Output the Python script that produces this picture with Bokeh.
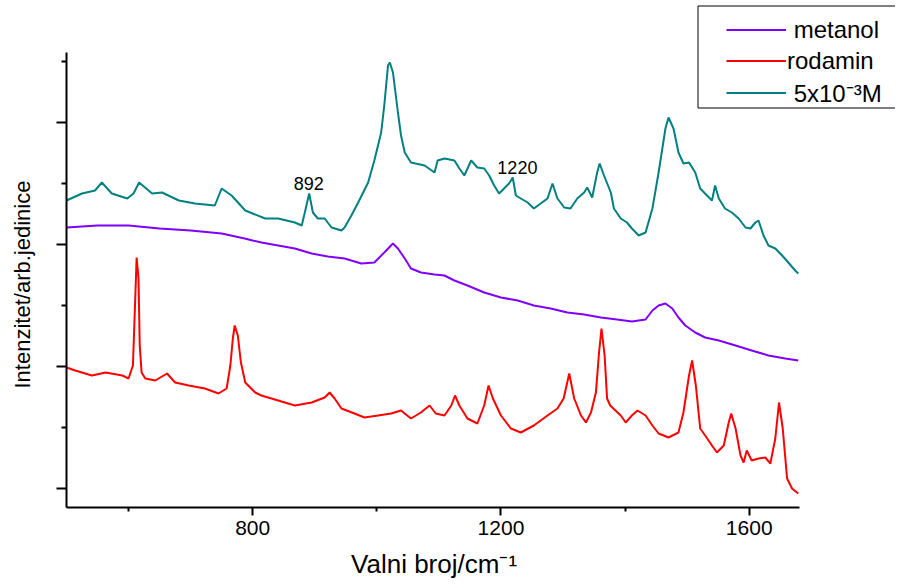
from bokeh.plotting import figure
from bokeh.models import (Range1d, FixedTicker, Legend, LegendItem, Label,
                          CustomLabelingPolicy)
from bokeh.embed import file_html
from bokeh.resources import INLINE

# Raman spectra: wavenumber (cm^-1), intensity (a.u.)
x_sample = [500, 525, 546, 557, 573, 598, 608, 617, 638, 654, 681, 707, 739, 750, 766, 788,
            820, 841, 868, 879, 884, 891, 897, 905, 916, 927, 943, 948, 959, 970, 986, 996,
            1007, 1012, 1018, 1021, 1026, 1034, 1039, 1045, 1055, 1077, 1093, 1098, 1109, 1125,
            1133, 1141, 1152, 1162, 1173, 1181, 1189, 1197, 1205, 1213, 1219, 1224, 1232, 1243,
            1253, 1264, 1275, 1283, 1291, 1302, 1312, 1323, 1334, 1339, 1347, 1355, 1359, 1366,
            1377, 1382, 1393, 1403, 1411, 1422, 1433, 1444, 1454, 1465, 1470, 1478, 1486, 1494,
            1503, 1513, 1521, 1532, 1540, 1545, 1551, 1561, 1572, 1583, 1594, 1602, 1610, 1615,
            1623, 1631, 1642, 1653, 1663, 1674, 1679]
y_sample = [300, 307, 310, 318, 307, 302, 307, 318, 307, 308, 300, 297, 295, 312, 305, 290,
            282, 282, 278, 275, 288, 307, 288, 282, 282, 273, 270, 273, 285, 298, 318, 340,
            368, 395, 435, 438, 428, 388, 365, 348, 338, 335, 328, 340, 342, 340,
            332, 325, 340, 333, 332, 325, 315, 307, 312, 317, 323, 305, 302, 298,
            292, 297, 302, 317, 302, 293, 292, 302, 308, 313, 303, 328, 337, 325,
            308, 292, 282, 278, 272, 265, 268, 292, 328, 372, 383, 372, 348, 337,
            338, 328, 312, 305, 300, 315, 302, 292, 288, 282, 273, 272, 278, 280,
            265, 255, 252, 245, 238, 230, 227]

x_metanol = [500, 550, 600, 650, 700, 750, 787, 800, 814, 841, 868, 895, 921, 948, 975, 996,
             1012, 1026, 1034, 1045, 1055, 1071, 1093, 1109, 1125, 1146, 1173, 1200, 1227, 1253,
             1280, 1307, 1334, 1361, 1387, 1411, 1433, 1444, 1454, 1465, 1476, 1486, 1497, 1513,
             1529, 1551, 1578, 1604, 1631, 1658, 1679]
y_metanol = [273, 275, 275, 272, 270, 267, 262, 260, 258, 255, 252, 247, 244, 242, 237, 238,
             248, 257, 252, 242, 232, 228, 226, 225, 220, 215, 208, 203, 200, 195,
             192, 188, 186, 183, 181, 179, 181, 190, 195, 197, 192, 183, 175, 168,
             163, 160, 155, 150, 145, 142, 140]

x_rodamin = [500, 514, 541, 563, 590, 600, 607, 610, 613, 616, 618, 621, 627, 643, 662, 675,
             697, 723, 745, 758, 764, 768, 771, 776, 781, 788, 804, 814, 841, 868, 895, 916,
             924, 932, 943, 964, 980, 1002, 1023, 1039, 1055, 1071, 1085, 1095, 1109, 1120,
             1126, 1133, 1146, 1162, 1173, 1180, 1187, 1200, 1216, 1232, 1253, 1275, 1291, 1301,
             1310, 1318, 1329, 1337, 1345, 1353, 1358, 1362, 1367, 1371, 1376, 1393, 1401, 1411,
             1420, 1433, 1444, 1454, 1470, 1486, 1494, 1503, 1508, 1514, 1521, 1529, 1540, 1548,
             1559, 1567, 1571, 1578, 1586, 1591, 1596, 1604, 1615, 1626, 1634, 1642, 1648, 1654,
             1661, 1669, 1679]
y_rodamin = [133, 130, 125, 128, 125, 122, 135, 188, 243, 222, 155, 128, 122, 120, 127, 118,
             115, 112, 107, 112, 135, 162, 175, 165, 138, 118, 108, 105, 100, 95, 98, 103,
             108, 102, 92, 87, 83, 85, 87, 90, 82, 88, 95, 87, 85, 95,
             105, 95, 82, 77, 95, 115, 102, 85, 72, 68, 75, 85, 92, 102,
             127, 102, 85, 78, 88, 108, 148, 172, 145, 102, 95, 85, 78, 85,
             90, 85, 75, 67, 63, 68, 88, 125, 140, 115, 72, 65, 55, 48,
             55, 78, 87, 72, 45, 38, 50, 40, 42, 43, 37, 62, 98, 72,
             22, 12, 7]

series_labels = ["\u00a0metanol", "rodamin", "\u00a05x10\u207b\u00b3M"]
x_ticks = [800, 1200, 1600]
x_minor = [600, 1000, 1400]
y_major = [12.5, 134.5, 256.5, 378.5]
y_minor = [73.5, 195.5, 317.5, 439.5]
peak_labels = [(892, "892"), (1220, "1220")]

FONT = "Liberation Sans"
NB = "\u00a0"
W, H = 895, 586
LEFT, BOTTOM = 66, 79
X0, X1 = 500, 1681          # extent of the drawn x axis
PX_PER_CM = 733 / 1181.0    # horizontal scale of the reference
Y0, Y1 = -7, 448            # extent of the drawn y axis (1 unit per px)
Y_TOP = Y0 + (H - BOTTOM)   # value at the top edge of the picture

p = figure(width=W, height=H, output_backend="svg", toolbar_location=None,
           x_range=Range1d(X0, X0 + (W - LEFT) / PX_PER_CM),
           y_range=Range1d(Y0, Y_TOP),
           min_border_left=LEFT, min_border_right=0, min_border_top=0,
           min_border_bottom=BOTTOM,
           background_fill_color="white", border_fill_color="white")
p.outline_line_color = None
p.grid.visible = False

r_met = p.line(x_metanol, y_metanol, line_color="#8000ff", line_width=2)
r_rod = p.line(x_rodamin, y_rodamin, line_color="#ff0000", line_width=2)
r_smp = p.line(x_sample, y_sample, line_color="#008080", line_width=2)

# x axis
xa = p.xaxis[0]
xa.bounds = (X0, X1)
xa.ticker = FixedTicker(ticks=x_ticks, minor_ticks=x_minor)
xa.axis_line_width = 2
xa.major_tick_line_width = 2
xa.minor_tick_line_width = 2
xa.major_tick_out = 8
xa.major_tick_in = 0
xa.minor_tick_out = 4
xa.minor_tick_in = 0
xa.major_label_text_font = FONT
xa.major_label_text_font_size = "21px"
xa.major_label_text_color = "black"
xa.major_label_standoff = 5
# trailing no-break spaces centre the visible title under the drawn axis
xa.axis_label = "Valni broj/cm\u207b\u00b9" + NB * 13
xa.axis_label_text_font = FONT
xa.axis_label_text_font_size = "26px"
xa.axis_label_text_font_style = "normal"
xa.axis_label_text_color = "black"
xa.axis_label_standoff = 11

# y axis (ticks without numbers)
ya = p.yaxis[0]
ya.bounds = (Y0, Y1)
ya.ticker = FixedTicker(ticks=y_major, minor_ticks=y_minor)
ya.axis_line_width = 2
ya.major_tick_line_width = 2
ya.minor_tick_line_width = 2
ya.major_tick_out = 10
ya.major_tick_in = 0
ya.minor_tick_out = 5
ya.minor_tick_in = 0
ya.major_label_overrides = {t: "" for t in y_major}
ya.major_label_policy = CustomLabelingPolicy(
    code="for (const i of Array.from(indices)) { indices.unset(i) }\nreturn indices")
ya.major_label_standoff = 0
ya.axis_label = "Intenzitet/arb.jedinice" + NB * 10
ya.axis_label_text_font = FONT
ya.axis_label_text_font_size = "22px"
ya.axis_label_text_font_style = "normal"
ya.axis_label_text_color = "black"
ya.axis_label_standoff = 22

# peak annotations
p.add_layout(Label(x=peak_labels[0][0], y=317, text=peak_labels[0][1], text_font=FONT,
                   text_font_size="18px", text_align="center", text_baseline="alphabetic",
                   text_color="black", x_offset=-1))
p.add_layout(Label(x=peak_labels[1][0], y=333, text=peak_labels[1][1], text_font=FONT,
                   text_font_size="18px", text_align="center", text_baseline="alphabetic",
                   text_color="black", x_offset=4))

# legend frame: top, left and bottom sides; its right side runs off the picture
bx_left = X0 + (697.5 - LEFT) / PX_PER_CM
bx_far = X0 + (W + 60 - LEFT) / PX_PER_CM
by_top = Y_TOP - 5.5
by_bot = Y_TOP - 107.5
p.segment(x0=[bx_left, bx_left, bx_left], y0=[by_top, by_bot, by_bot],
          x1=[bx_far, bx_far, bx_left], y1=[by_top, by_bot, by_top],
          line_color="black", line_width=1)

legend = Legend(items=[LegendItem(label=series_labels[0], renderers=[r_met]),
                       LegendItem(label=series_labels[1], renderers=[r_rod]),
                       LegendItem(label=series_labels[2], renderers=[r_smp])],
                location=(660, 398), padding=0, spacing=0, margin=0,
                glyph_width=60, glyph_height=31, label_height=31, label_standoff=1,
                label_width=120,
                border_line_color=None, background_fill_alpha=0.0,
                label_text_font=FONT, label_text_font_size="24px", label_text_color="black")
p.add_layout(legend)

open("out.html", "w").write(file_html(p, INLINE))
